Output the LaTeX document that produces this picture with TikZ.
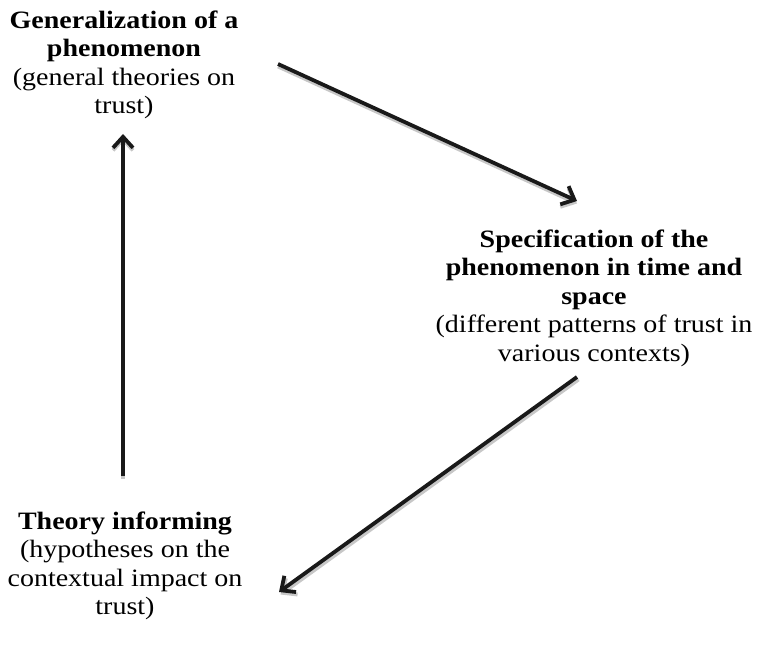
\documentclass[tikz,border=0pt]{standalone}
\usepackage{fontspec}
\setmainfont{Liberation Serif}
\newfontfamily\cambfont{Liberation Serif}[FakeStretch=1.12]
\usetikzlibrary{arrows.meta}
\begin{document}
\begin{tikzpicture}[x=1pt,y=-1pt,
  lbl/.style={align=center,inner sep=0pt,font=\cambfont\fontsize{25}{28.5}\selectfont},
  conn/.style={line width=3.8pt,-{Straight Barb[length=11pt,width=20pt,line width=3.8pt]},black!90},
  shade/.style={line width=3.8pt,-{Straight Barb[length=11pt,width=20pt,line width=3.8pt]},black!22}]
\useasboundingbox (0,0) rectangle (757,663);
\node[lbl] (gen) at (124,65) {\textbf{Generalization of a}\\\textbf{phenomenon}\\(general theories on\\trust)};
\node[lbl] (spec) at (594,298) {\textbf{Specification of the}\\\textbf{phenomenon in time and}\\\textbf{space}\\(different patterns of trust in\\various contexts)};
\node[lbl] (theo) at (125,566) {\textbf{Theory informing}\\(hypotheses on the\\contextual impact on\\trust)};
\coordinate (a1s) at (278,64);
\coordinate (a1e) at (577,201);
\coordinate (a2s) at (577,377);
\coordinate (a2e) at (279,592);
\coordinate (a3s) at (123,476);
\coordinate (a3e) at (123,134);
\draw[shade] ([shift={(0,2.5)}]a1s) -- ([shift={(0,2.5)}]a1e);
\draw[shade] ([shift={(1.5,2.5)}]a2s) -- ([shift={(1.5,2.5)}]a2e);
\draw[shade] ([shift={(0,2.5)}]a3s) -- ([shift={(0,2.5)}]a3e);
\draw[conn] (a1s) -- (a1e);
\draw[conn] (a2s) -- (a2e);
\draw[conn] (a3s) -- (a3e);
\end{tikzpicture}
\end{document}
